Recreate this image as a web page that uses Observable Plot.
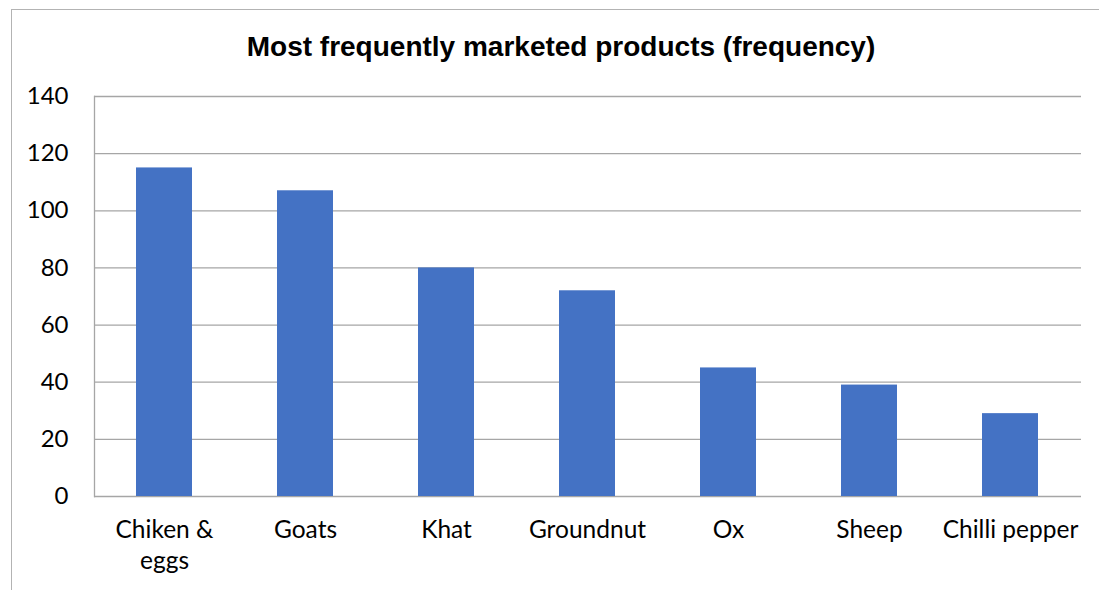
<!DOCTYPE html>
<html>
<head>
<meta charset="utf-8">
<script src="https://cdn.jsdelivr.net/npm/d3@7"></script>
<script src="https://cdn.jsdelivr.net/npm/@observablehq/plot@0.6"></script>
<style>
  html, body { margin: 0; padding: 0; background: #fff; }
  #wrap { position: relative; width: 1099px; height: 590px; overflow: hidden; }
  #frame { position: absolute; left: 11px; top: 9px; width: 1200px; height: 700px;
           border-left: 1.5px solid #b3b3b3; border-top: 1.5px solid #b3b3b3; }
  #title { position: absolute; left: 0; width: 1122px; top: 30px; text-align: center;
           font-family: "Liberation Sans", Arial, sans-serif; font-weight: bold; font-size: 28px;
           color: #000; line-height: 34px; }
  #chart { position: absolute; left: 0; top: 0; }
</style>
</head>
<body>
<div id="wrap">
  <div id="frame"></div>
  <div id="chart"></div>
  <div id="title">Most frequently marketed products (frequency)</div>
</div>
<script>
const categories = ["Chiken &\neggs", "Goats", "Khat", "Groundnut", "Ox", "Sheep", "Chilli pepper"];
const frequency = [115, 107, 80, 72, 45, 39, 29];
const yTicks = [0, 20, 40, 60, 80, 100, 120, 140];

const data = categories.map((c, i) => ({product: c, value: frequency[i]}));

const chart = Plot.plot({
  width: 1099,
  height: 590,
  marginLeft: 94,
  marginRight: 18,
  marginTop: 96,
  marginBottom: 94,
  style: {background: "transparent", fontFamily: "Lato, 'Open Sans', sans-serif", color: "#000"},
  x: {domain: categories, paddingInner: 0.6, paddingOuter: 0.3, label: null},
  y: {domain: [0, 140], label: null},
  marks: [
    Plot.gridY(yTicks, {stroke: "#a6a6a6", strokeOpacity: 1, strokeWidth: 1.3}),
    Plot.frame({anchor: "left", stroke: "#a6a6a6", strokeWidth: 1.3}),
    Plot.barY(data, {x: "product", y: "value", fill: "#4472C4"}),
    Plot.axisY(yTicks, {tickSize: 0, tickPadding: 26, fontSize: 24, fill: "#000", label: null}),
    Plot.axisX({tickSize: 0, tickPadding: 20, fontSize: 24.5, lineHeight: 1.25, fill: "#000", label: null})
  ]
});
document.getElementById("chart").appendChild(chart);
</script>
</body>
</html>
